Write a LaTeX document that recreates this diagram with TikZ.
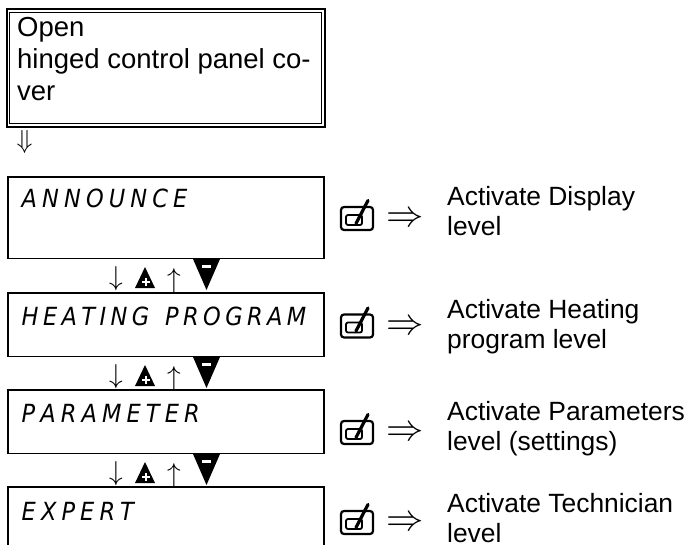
\documentclass[tikz,border=0pt]{standalone}
\usepackage{graphicx}
\usepackage{fontspec}
\setmainfont{Liberation Sans}
\newfontfamily\lcdfont{DejaVu Sans}
\def\lcdk{5.1pt}
\newcommand\lcdchar[1]{\scalebox{0.9}[1]{#1}\kern\lcdk}
\def\lcd#1{\lcdA#1\relax}
\def\lcdA#1{\ifx#1\relax\else\lcdchar{#1}\expandafter\lcdA\fi}
\tikzset{
  lcdbox/.style={draw, line width=1.6pt, minimum width=316pt, inner sep=0pt, outer sep=0pt},
  lcdtext/.style={anchor=base west, inner sep=0pt, font=\fontsize{25}{28}\lcdfont\itshape},
  info/.style={anchor=north west, inner sep=0pt, align=left, font=\fontsize{26.4}{30}\selectfont},
  glyph/.style={inner sep=0pt, font=\fontsize{24.88}{25}\selectfont},
  rarr/.style={inner sep=0pt, font=\fontsize{24.88}{25}\selectfont},
  plustri/.pic={
    \fill (-10,10.5) -- (10,10.5) -- (0,-10.5) -- cycle;
    \draw[white, line width=2pt] (-3,4) -- (5,4) (1,0) -- (1,8);
  },
  minustri/.pic={
    \fill (-13.5,-15.5) -- (13.5,-15.5) -- (0,15.5) -- cycle;
    \fill[white] (-4.5,-9.5) rectangle (4.5,-6.5);
  },
  okbtn/.pic={
    \draw[line width=2.2pt, rounded corners=3pt] (-16,-11.5) rectangle (16,11.5);
    \draw[line width=1.8pt, rounded corners=2pt] (-11,-3.5) rectangle (5,6.5);
    \draw[line width=3.2pt, line cap=round] (-1,5) -- (11,-18);
  }
}
\begin{document}
\begin{tikzpicture}[x=1pt, y=-1pt]
\useasboundingbox (0,0) rectangle (690,545);
\clip (0,0) rectangle (690,545);
\fill[white] (0,0) rectangle (690,545);

% top box
\node[draw, line width=1pt, minimum width=311.5pt, minimum height=111.5pt, inner sep=0pt, outer sep=0pt] (cover) at (165.25,68.25) {};
\draw[line width=2pt] ([shift={(-3,-3)}]cover.north west) rectangle ([shift={(4,3.5)}]cover.south east);
\node[anchor=north west, inner sep=0pt, align=left, font=\fontsize{27.5}{32}\selectfont] (covertext) at (17,16.8) {Open\\hinged control panel co-\\ver};
\node[inner sep=0pt, font=\fontsize{24.88}{25}\selectfont] (down) at (24.5,141.5) {\scalebox{1.05}{$\Downarrow$}};

% LCD boxes
\node[lcdbox, minimum height=81.5pt] (announce) at (166,217.75) {};
\node[lcdbox, minimum height=63.5pt] (heating) at (166,324.75) {};
\node[lcdbox, minimum height=63.5pt] (param) at (166,421.75) {};
\node[lcdbox, minimum height=113pt] (expert) at (166,543.5) {};

\node[lcdtext] (announcetext) at (21.5,207.5) {\lcd{ANNOUNCE}};
\node[lcdtext] (heatingtext) at (21.5,325) {\def\lcdk{4.4pt}\lcd{HEATING~PROGRAM}};
\node[lcdtext] (paramtext) at (21.5,422) {\lcd{PARAMETER}};
\node[lcdtext] (experttext) at (21.5,520) {\lcd{EXPERT}};

% navigation rows
\foreach \g/\n in {258.5/1, 356.5/2, 453.5/3}{
  \node[glyph] (dn\n) at (116,\g+20) {\scalebox{1.1}{$\downarrow$}};
  \pic at (145,\g+19) {plustri};
  \node[glyph] (up\n) at (174,\g+22) {\scalebox{1.1}{$\uparrow$}};
  \pic at (206.5,\g+16) {minustri};
}

% right side
\pic at (357,218.5) {okbtn};
\pic at (357,326) {okbtn};
\pic at (357,432.5) {okbtn};
\pic at (357,522.5) {okbtn};
\node[rarr] (r1) at (405,220) {\scalebox{1.5}{$\Rightarrow$}};
\node[rarr] (r2) at (405,327.5) {\scalebox{1.5}{$\Rightarrow$}};
\node[rarr] (r3) at (405,434) {\scalebox{1.5}{$\Rightarrow$}};
\node[rarr] (r4) at (405,524) {\scalebox{1.5}{$\Rightarrow$}};

\node[info] (t1) at (447,186.1) {Activate Display\\level};
\node[info] (t2) at (447,299.1) {Activate Heating\\program level};
\node[info] (t3) at (447,401.1) {Activate Parameters\\level (settings)};
\node[info] (t4) at (447,493.1) {Activate Technician\\level};
\end{tikzpicture}
\end{document}
